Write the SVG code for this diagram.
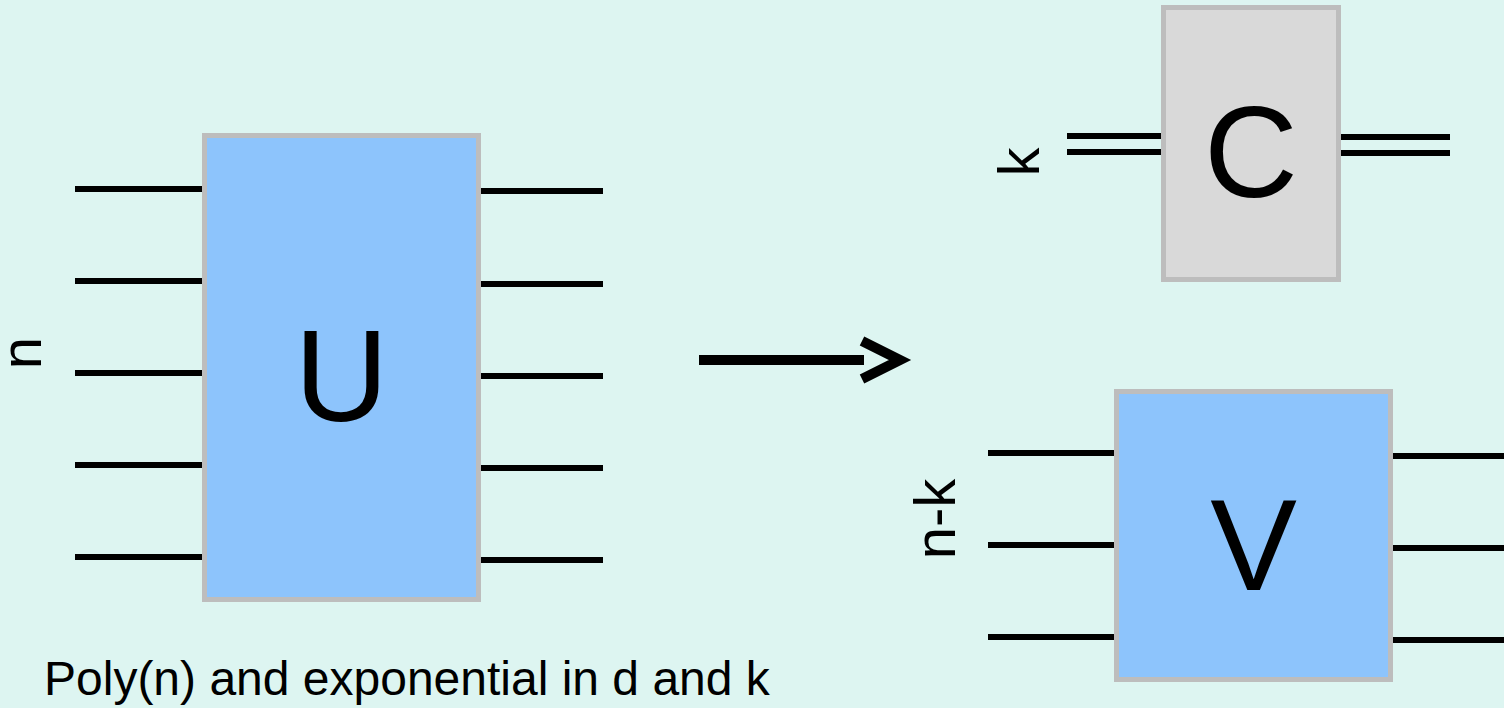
<svg xmlns="http://www.w3.org/2000/svg" width="1504" height="708" viewBox="0 0 1504 708">
<style>
.bg{fill:#DDF5F1}
.box{stroke:#BDBDBD;stroke-width:5}
.blue{fill:#8DC4FC}
.gray{fill:#D9D9D9}
.wire{stroke:#000;stroke-width:6;fill:none}
.big{font-family:"Liberation Sans",Arial,sans-serif;font-size:130px;fill:#000;text-anchor:middle}
.lbl{font-family:"Liberation Sans",Arial,sans-serif;font-size:58px;fill:#000;text-anchor:middle}
.cap{font-family:"Liberation Sans",Arial,sans-serif;font-size:48px;fill:#000}
</style>
<rect class="bg" x="0" y="0" width="1504" height="708"/>
<g id="connectors">
  <g id="wires-U-in">
    <line class="wire" x1="75" y1="189" x2="204" y2="189"/>
    <line class="wire" x1="75" y1="281" x2="204" y2="281"/>
    <line class="wire" x1="75" y1="373" x2="204" y2="373"/>
    <line class="wire" x1="75" y1="465" x2="204" y2="465"/>
    <line class="wire" x1="75" y1="557" x2="204" y2="557"/>
  </g>
  <g id="wires-U-out">
    <line class="wire" x1="479" y1="191" x2="603" y2="191"/>
    <line class="wire" x1="479" y1="284" x2="603" y2="284"/>
    <line class="wire" x1="479" y1="376" x2="603" y2="376"/>
    <line class="wire" x1="479" y1="468" x2="603" y2="468"/>
    <line class="wire" x1="479" y1="560" x2="603" y2="560"/>
  </g>
  <g id="wires-C">
    <line class="wire" x1="1067" y1="136" x2="1163" y2="136"/>
    <line class="wire" x1="1067" y1="152" x2="1163" y2="152"/>
    <line class="wire" x1="1339" y1="137" x2="1450" y2="137"/>
    <line class="wire" x1="1339" y1="153" x2="1450" y2="153"/>
  </g>
  <g id="wires-V">
    <line class="wire" x1="988" y1="453" x2="1116" y2="453"/>
    <line class="wire" x1="988" y1="545" x2="1116" y2="545"/>
    <line class="wire" x1="988" y1="637" x2="1116" y2="637"/>
    <line class="wire" x1="1391" y1="456" x2="1504" y2="456"/>
    <line class="wire" x1="1391" y1="548" x2="1504" y2="548"/>
    <line class="wire" x1="1391" y1="640" x2="1504" y2="640"/>
  </g>
  <g id="arrow">
    <line x1="699" y1="360" x2="864" y2="360" stroke="#000" stroke-width="10"/>
    <polyline points="862,341 900,360 862,379" fill="none" stroke="#000" stroke-width="10"/>
  </g>
</g>
<g id="node-U">
  <rect class="box blue" x="204.5" y="135.5" width="274" height="464"/>
  <text class="big" x="341.5" y="421">U</text>
</g>
<g id="label-n">
  <text class="lbl" transform="translate(41,353) rotate(-90)">n</text>
</g>
<g id="node-C">
  <rect class="box gray" x="1163.5" y="7.5" width="175" height="272"/>
  <text class="big" x="1251" y="197">C</text>
</g>
<g id="label-k">
  <text class="lbl" transform="translate(1039,162) rotate(-90)">k</text>
</g>
<g id="node-V">
  <rect class="box blue" x="1116.5" y="391.5" width="274" height="288"/>
  <text class="big" x="1253.5" y="590">V</text>
</g>
<g id="label-nk">
  <text class="lbl" transform="translate(955,519) rotate(-90)">n-k</text>
</g>
<g id="caption">
  <text class="cap" x="44" y="695">Poly(n) and exponential in d and k</text>
</g>
</svg>
